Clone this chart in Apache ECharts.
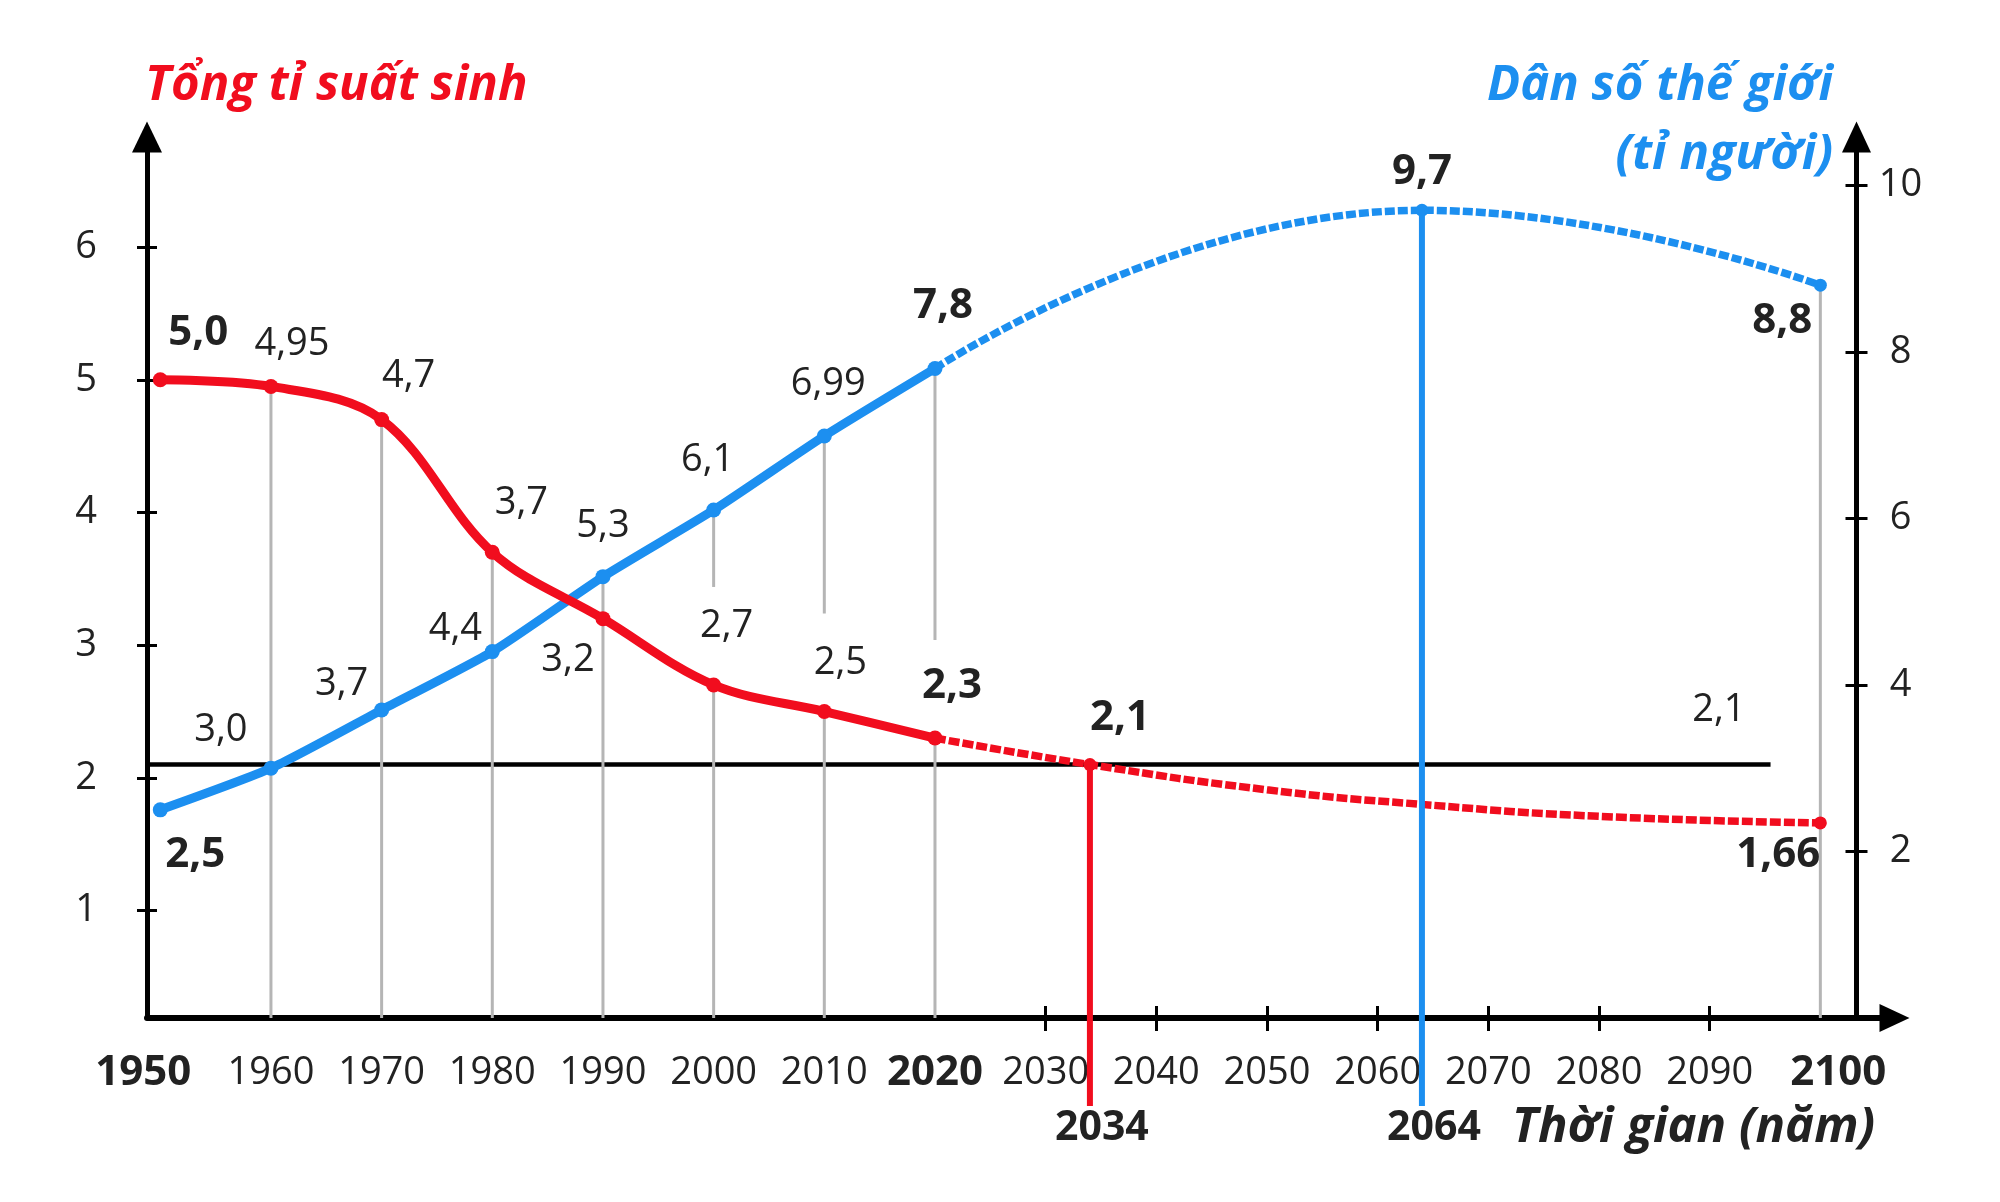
<!DOCTYPE html>
<html>
<head>
<meta charset="utf-8">
<title>Tổng tỉ suất sinh và dân số thế giới</title>
<script src="https://cdn.jsdelivr.net/npm/echarts@6/dist/echarts.min.js"></script>
<style>
  html, body { margin: 0; padding: 0; background: #fff; }
  #chart { width: 2000px; height: 1202px; }
</style>
</head>
<body>
<div id="chart"></div>
<script>
// số liệu thực tế 1950 - 2020
const years = [1950, 1960, 1970, 1980, 1990, 2000, 2010, 2020];
const fertility = [5.0, 4.95, 4.7, 3.7, 3.2, 2.7, 2.5, 2.3];
const population = [2.5, 3.0, 3.7, 4.4, 5.3, 6.1, 6.99, 7.8];

// dự báo đến 2100 (điểm giữa đọc trên đường cong)
const fertilityForecastYears = [2020, 2034, 2050, 2064, 2080, 2100];
const fertilityForecast = [2.3, 2.1, 1.91, 1.8, 1.71, 1.66];
const populationForecastYears = [2020, 2064, 2100];
const populationForecast = [7.8, 9.7, 8.8];

const replacementLevel = 2.1;
const axisYears = [1950, 1960, 1970, 1980, 1990, 2000, 2010, 2020, 2030, 2040, 2050, 2060, 2070, 2080, 2090, 2100];
const fertilityTicks = [1, 2, 3, 4, 5, 6];
const populationTicks = [2, 4, 6, 8, 10];
const boldYears = [1950, 2020, 2034, 2064, 2100];

// style
const RED = '#f10d1e';
const BLUE = '#1c8ff0';
const INK = '#222222';
const GUIDE = '#b5b5b5';
const FONT = '"Open Sans", "Noto Sans", sans-serif';
const X_MIN = 1948.8, X_MAX = 2106.7;
const REPLACEMENT_LINE_END = 2095.5;

const fertilityOffsets = [[38, -47], [21, -42], [27, -43], [29, -49], [-35, 42], [13, -59], [16, -48], [17, -52]];
const populationOffsets = [[35, 45], [-50, -38], [-40, -26], [-37, -22], [0, -50], [-6, -50], [4, -52], [8, -62]];
const fertilityForecastOffsets = { 2034: [30, -47], 2100: [-42, 32] };
const populationForecastOffsets = { 2064: [0, -38], 2100: [-38, 36] };

const fmt = v => (Number.isInteger(v) ? v.toFixed(1) : String(v)).replace('.', ',');

function point(x, y, offset) {
  if (!offset) {
    return { value: [x, y], symbol: 'none', label: { show: false } };
  }
  const bold = boldYears.includes(x);
  return {
    value: [x, y],
    symbol: 'circle',
    label: { show: true, offset: offset, fontWeight: bold ? 'bold' : 'normal', fontSize: bold ? 42 : 38 }
  };
}

const pointLabel = {
  show: true,
  position: 'inside',
  color: INK,
  fontSize: 38,
  fontFamily: FONT,
  formatter: p => fmt(p.value[1])
};

const axisText = { color: INK, fontSize: 38, fontFamily: FONT };
const boldText = { color: INK, fontSize: 42, fontFamily: FONT, fontWeight: 'bold' };
const arrowLine = { show: true, onZero: false, symbol: ['none', 'triangle'] };

function yearLabel(v) {
  if (v === axisYears[0]) return '{first|' + v + '}';
  if (v === axisYears[axisYears.length - 1]) return '{last|' + v + '}';
  return boldYears.includes(v) ? '{b|' + v + '}' : String(v);
}

const chart = echarts.init(document.getElementById('chart'));

const option = {
  animation: false,
  backgroundColor: '#fff',
  grid: { left: 147, right: 105.5, top: 137, bottom: 184 },
  xAxis: [
    {
      type: 'value', position: 'bottom', min: X_MIN, max: X_MAX,
      axisLine: Object.assign({ symbolSize: [28, 30], lineStyle: { color: '#000', width: 6 } }, arrowLine),
      axisTick: { show: true, customValues: axisYears.filter(y => y > 2020 && y < 2100), length: 13,
        lineStyle: { color: '#000', width: 3 } },
      axisLabel: Object.assign({
        customValues: axisYears, margin: 55, verticalAlign: 'middle',
        formatter: yearLabel,
        rich: {
          b: boldText,
          first: Object.assign({ padding: [0, 34, 0, 0] }, boldText),
          last: Object.assign({ padding: [0, 0, 0, 36] }, boldText)
        }
      }, axisText),
      splitLine: { show: false }
    },
    {
      type: 'value', position: 'bottom', min: X_MIN, max: X_MAX,
      axisLine: { show: false, onZero: false },
      axisTick: { show: true, inside: true, customValues: axisYears.filter(y => y > 2020 && y < 2100), length: 12,
        lineStyle: { color: '#000', width: 3 } },
      axisLabel: { show: false },
      splitLine: { show: false }
    }
  ],
  yAxis: [
    {
      type: 'value', position: 'left', min: 0.19, max: 6.83,
      axisLine: Object.assign({ symbolSize: [30, 31], lineStyle: { color: '#000', width: 5 } }, arrowLine),
      axisTick: { show: true, customValues: fertilityTicks, length: 10, lineStyle: { color: '#000', width: 3 } },
      axisLabel: Object.assign({ customValues: fertilityTicks, margin: 61, align: 'center' }, axisText),
      splitLine: { show: false }
    },
    {
      type: 'value', position: 'right', offset: -38, min: 0, max: 10.58,
      axisLine: Object.assign({ symbolSize: [29, 31], lineStyle: { color: '#000', width: 5 } }, arrowLine),
      axisTick: { show: true, customValues: populationTicks, length: 11, lineStyle: { color: '#000', width: 3 } },
      axisLabel: Object.assign({ customValues: populationTicks, margin: 44, align: 'center' }, axisText),
      splitLine: { show: false }
    },
    {
      type: 'value', position: 'left', min: 0.19, max: 6.83,
      axisLine: { show: false, onZero: false },
      axisTick: { show: true, inside: true, customValues: fertilityTicks, length: 10, lineStyle: { color: '#000', width: 3 } },
      axisLabel: { show: false },
      splitLine: { show: false }
    },
    {
      type: 'value', position: 'right', offset: -38, min: 0, max: 10.58,
      axisLine: { show: false, onZero: false },
      axisTick: { show: true, inside: true, customValues: populationTicks, length: 11, lineStyle: { color: '#000', width: 3 } },
      axisLabel: { show: false },
      splitLine: { show: false }
    }
  ],
  series: [
    {
      name: 'Dân số thế giới',
      type: 'line', xAxisIndex: 0, yAxisIndex: 1,
      smooth: 0.2,
      symbolSize: 15,
      itemStyle: { color: BLUE },
      lineStyle: { color: BLUE, width: 9 },
      label: pointLabel,
      data: years.map((y, i) => point(y, population[i], populationOffsets[i])),
      z: 2
    },
    {
      name: 'Dân số thế giới (dự báo)',
      type: 'line', xAxisIndex: 0, yAxisIndex: 1,
      smooth: true,
      symbolSize: 13,
      itemStyle: { color: BLUE },
      lineStyle: { color: BLUE, width: 7.5, type: [10, 3] },
      label: pointLabel,
      data: populationForecastYears.map((y, i) => point(y, populationForecast[i], populationForecastOffsets[y])),
      z: 2
    },
    {
      name: 'Tổng tỉ suất sinh',
      type: 'line', xAxisIndex: 0, yAxisIndex: 0,
      smooth: 0.35,
      symbolSize: 15,
      itemStyle: { color: RED },
      lineStyle: { color: RED, width: 9 },
      label: pointLabel,
      data: years.map((y, i) => point(y, fertility[i], fertilityOffsets[i])),
      markLine: {
        z: 1,
        silent: true,
        symbol: ['none', 'none'],
        lineStyle: { color: '#000', width: 4.5, type: 'solid' },
        label: {
          show: true, position: 'insideEndTop', distance: [25, 35],
          color: INK, fontSize: 38, fontFamily: FONT,
          formatter: () => fmt(replacementLevel)
        },
        data: [[{ coord: [X_MIN, replacementLevel] }, { coord: [REPLACEMENT_LINE_END, replacementLevel] }]]
      },
      z: 3
    },
    {
      name: 'Tổng tỉ suất sinh (dự báo)',
      type: 'line', xAxisIndex: 0, yAxisIndex: 0,
      smooth: true,
      symbolSize: 13,
      itemStyle: { color: RED },
      lineStyle: { color: RED, width: 7.5, type: [11, 3] },
      label: pointLabel,
      data: fertilityForecastYears.map((y, i) => point(y, fertilityForecast[i], fertilityForecastOffsets[y])),
      z: 3
    }
  ]
};

chart.setOption(option);

// vị trí pixel lấy từ trục của echarts
const px = (x, y, yAxisIndex) => chart.convertToPixel({ xAxisIndex: 0, yAxisIndex: yAxisIndex }, [x, y]);
const baseY = chart.convertToPixel({ yAxisIndex: 1 }, 0);

const redAt = y => years.includes(y) ? fertility[years.indexOf(y)] : fertilityForecast[fertilityForecastYears.indexOf(y)];
const blueAt = y => years.includes(y) ? population[years.indexOf(y)] : populationForecast[populationForecastYears.indexOf(y)];
const redOffset = y => years.includes(y) ? fertilityOffsets[years.indexOf(y)] : fertilityForecastOffsets[y];

function vline(x, y1, y2, color, width, z) {
  return { type: 'line', z: z, silent: true, shape: { x1: x, y1: y1, x2: x, y2: y2 }, style: { stroke: color, lineWidth: width } };
}

const graphics = [];

// đường dóng màu xám
years.slice(1).concat([2100]).forEach(year => {
  const r = px(year, redAt(year), 0);
  const b = px(year, blueAt(year), 1);
  if (r[1] <= b[1]) {
    graphics.push(vline(r[0], r[1], baseY, GUIDE, 3, 1));
  } else if (redOffset(year)[1] < 0) {
    graphics.push(vline(b[0], b[1], r[1] - 98, GUIDE, 3, 1));
    graphics.push(vline(r[0], r[1], baseY, GUIDE, 3, 1));
  } else {
    graphics.push(vline(b[0], b[1], baseY, GUIDE, 3, 1));
  }
});

// năm mốc 2034, 2064
const drops = [
  { year: 2034, p: px(2034, replacementLevel, 0), color: RED },
  { year: 2064, p: px(2064, blueAt(2064), 1), color: BLUE }
];
drops.forEach(d => {
  graphics.push(vline(d.p[0], d.p[1], baseY + 88, d.color, 6, 5));
  graphics.push({
    type: 'text', z: 5, silent: true, x: d.p[0] + 12, y: baseY + 110,
    style: { text: String(d.year), fill: INK, fontSize: 41, fontWeight: 'bold', fontFamily: FONT, align: 'center', verticalAlign: 'middle' }
  });
});

// tiêu đề trục
const titleFont = { fontSize: 49, fontWeight: 'bold', fontStyle: 'italic', fontFamily: FONT };
graphics.push({ type: 'text', x: 145, y: 86, silent: true,
  style: Object.assign({ text: 'Tổng tỉ suất sinh', fill: RED, align: 'left', verticalAlign: 'middle' }, titleFont) });
graphics.push({ type: 'text', x: 1833, y: 121, silent: true,
  style: Object.assign({ text: 'Dân số thế giới\n(tỉ người)', fill: BLUE, align: 'right', verticalAlign: 'middle', lineHeight: 69 }, titleFont) });
graphics.push({ type: 'text', x: 1512, y: 1128, silent: true,
  style: Object.assign({ text: 'Thời gian (năm)', fill: INK, align: 'left', verticalAlign: 'middle' }, titleFont) });

chart.setOption({ graphic: graphics });
</script>
</body>
</html>
